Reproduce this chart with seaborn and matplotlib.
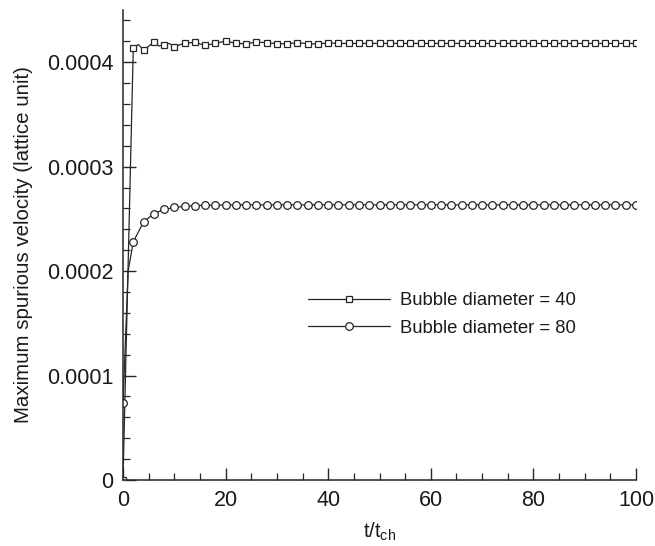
import numpy as np
import pandas as pd
import matplotlib
matplotlib.use("Agg")
import matplotlib.pyplot as plt
from matplotlib.ticker import MultipleLocator
import seaborn as sns

# Sampled times (markers every 2 t/t_ch)
time_marks = np.arange(0, 101, 2)

# Maximum spurious velocity, bubble diameter = 40
d40_marks = [0.0, 0.0004132, 0.0004113, 0.0004193, 0.0004167, 0.0004148, 0.0004183,
             0.0004190, 0.0004161, 0.0004180, 0.0004203, 0.0004180, 0.0004177,
             0.0004193, 0.0004187, 0.0004177, 0.0004177, 0.0004187, 0.0004177,
             0.0004175, 0.0004185, 0.0004180, 0.0004180, 0.0004180, 0.0004180,
             0.0004180, 0.0004180, 0.0004180, 0.0004180, 0.0004180, 0.0004180,
             0.0004180, 0.0004180, 0.0004180, 0.0004180, 0.0004180, 0.0004180,
             0.0004180, 0.0004180, 0.0004180, 0.0004180, 0.0004180, 0.0004180,
             0.0004180, 0.0004180, 0.0004180, 0.0004180, 0.0004180, 0.0004180,
             0.0004180, 0.0004180]
# extra in-between samples of the early oscillation
d40_mid_t = [3, 7, 9]
d40_mid_v = [0.0004170, 0.0004155, 0.0004180]

# Maximum spurious velocity, bubble diameter = 80
d80_marks = [0.000074, 0.000228, 0.000247, 0.000255, 0.000259, 0.000261, 0.000262,
             0.0002627, 0.0002630, 0.0002632, 0.0002633, 0.0002634, 0.0002634,
             0.0002634, 0.0002634, 0.0002634, 0.0002634, 0.0002634, 0.0002634,
             0.0002634, 0.0002634, 0.0002634, 0.0002634, 0.0002634, 0.0002634,
             0.0002634, 0.0002634, 0.0002634, 0.0002634, 0.0002634, 0.0002634,
             0.0002634, 0.0002634, 0.0002634, 0.0002634, 0.0002634, 0.0002634,
             0.0002634, 0.0002634, 0.0002634, 0.0002634, 0.0002634, 0.0002634,
             0.0002634, 0.0002634, 0.0002634, 0.0002634, 0.0002634, 0.0002634,
             0.0002634, 0.0002634]
d80_mid_t = [1]
d80_mid_v = [0.000200]

labels = ["Bubble diameter = 40", "Bubble diameter = 80"]
x_ticks = [0, 20, 40, 60, 80, 100]
y_ticks = [0, 0.0001, 0.0002, 0.0003, 0.0004]
y_tick_labels = ["0", "0.0001", "0.0002", "0.0003", "0.0004"]


def merged(t_marks, v_marks, t_mid, v_mid):
    df = pd.DataFrame({"t": list(t_marks) + list(t_mid),
                       "v": list(v_marks) + list(v_mid),
                       "mark": [True] * len(t_marks) + [False] * len(t_mid)})
    df = df.sort_values("t").reset_index(drop=True)
    return df, list(df.index[df["mark"]])


sns.set_theme(style="ticks")
plt.rcParams["font.family"] = ["Liberation Sans", "DejaVu Sans"]
plt.rcParams["mathtext.fontset"] = "custom"
plt.rcParams["mathtext.rm"] = "Liberation Sans"
plt.rcParams["mathtext.it"] = "Liberation Sans"

fig = plt.figure(figsize=(6.55, 5.46), dpi=100)
ax = fig.add_axes([0.1878, 0.1209, 0.7832, 0.8608])

ink = "#262626"
df40, idx40 = merged(time_marks, d40_marks, d40_mid_t, d40_mid_v)
df80, idx80 = merged(time_marks, d80_marks, d80_mid_t, d80_mid_v)

sns.lineplot(data=df40, x="t", y="v", ax=ax, color=ink, lw=0.9, marker="s",
             markevery=idx40, markersize=4, markerfacecolor="white",
             markeredgecolor=ink, markeredgewidth=0.9, label=labels[0],
             estimator=None, sort=False)
sns.lineplot(data=df80, x="t", y="v", ax=ax, color=ink, lw=0.9, marker="o",
             markevery=idx80, markersize=5.5, markerfacecolor="white",
             markeredgecolor=ink, markeredgewidth=0.9, label=labels[1],
             estimator=None, sort=False)

ax.set_xlim(0, 100)
ax.set_ylim(0, 0.00045)
ax.set_xticks(x_ticks)
ax.set_xticklabels([str(v) for v in x_ticks])
ax.set_yticks(y_ticks)
ax.set_yticklabels(y_tick_labels)
ax.xaxis.set_minor_locator(MultipleLocator(5))
ax.yaxis.set_minor_locator(MultipleLocator(0.00002))
ax.tick_params(which="major", direction="in", length=9, width=1.0, color=ink,
               labelsize=15.5, labelcolor="#1a1a1a", pad=7)
ax.tick_params(which="minor", direction="in", length=5, width=0.9, color=ink)
sns.despine(ax=ax)
for s in ("left", "bottom"):
    ax.spines[s].set_color(ink)
    ax.spines[s].set_linewidth(1.1)

ax.set_xlabel(r"t/t$_{\mathrm{ch}}$", fontsize=14.5, color="#1a1a1a", labelpad=7)
ax.set_ylabel("Maximum spurious velocity (lattice unit)", fontsize=14.8,
              color="#1a1a1a", labelpad=10)

leg = ax.legend(loc="upper left", bbox_to_anchor=(0.3606, 0.400), frameon=False,
                fontsize=13.3, handlelength=4.43, handletextpad=0.54,
                labelspacing=0.58, borderaxespad=0, borderpad=0)
for t in leg.get_texts():
    t.set_color("#1a1a1a")

fig.savefig("out.png", dpi=100, facecolor="white")
